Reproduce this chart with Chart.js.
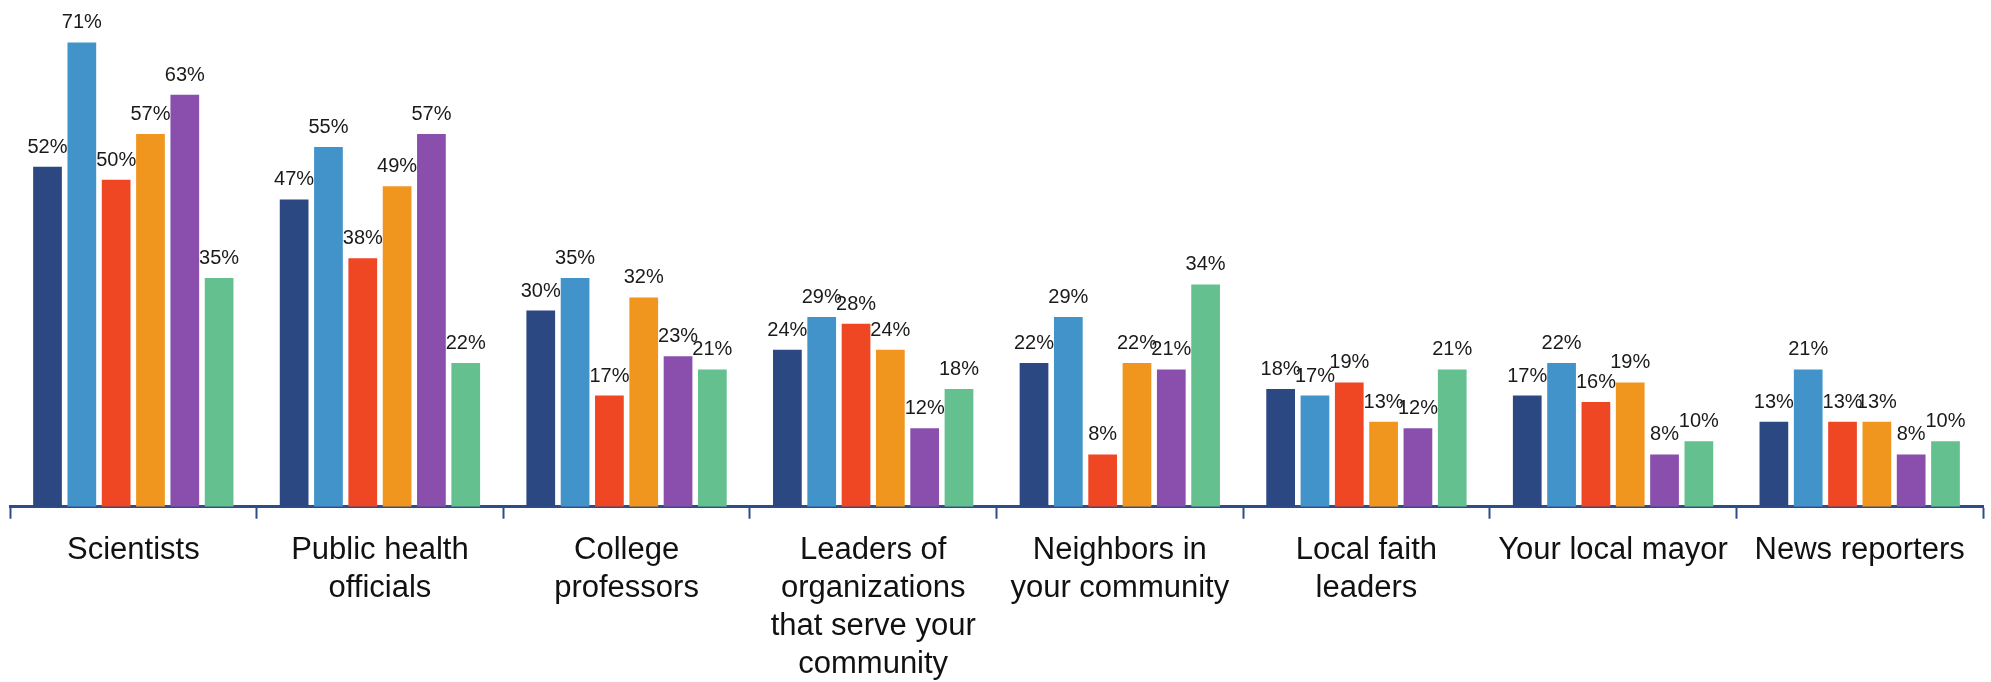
<!DOCTYPE html>
<html>
<head>
<meta charset="utf-8">
<script src="https://cdn.jsdelivr.net/npm/chart.js@4"></script>
<style>
  html, body { margin: 0; padding: 0; background: #ffffff; }
  #wrap { width: 1991px; height: 682px; position: relative; }
</style>
</head>
<body>
<div id="wrap"><canvas id="trustChart"></canvas></div>
<script>
/* ─── Data ───────────────────────────────────────────────── */
const CATEGORIES = [
  'Scientists',
  ['Public health', 'officials'],
  ['College', 'professors'],
  ['Leaders of', 'organizations', 'that serve your', 'community'],
  ['Neighbors in', 'your community'],
  ['Local faith', 'leaders'],
  'Your local mayor',
  'News reporters'
];
const SERIES_1 = [52, 47, 30, 24, 22, 18, 17, 13];
const SERIES_2 = [71, 55, 35, 29, 29, 17, 22, 21];
const SERIES_3 = [50, 38, 17, 28, 8, 19, 16, 13];
const SERIES_4 = [57, 49, 32, 24, 22, 13, 19, 13];
const SERIES_5 = [63, 57, 23, 12, 21, 12, 8, 8];
const SERIES_6 = [35, 22, 21, 18, 34, 21, 10, 10];

const COLORS = ['#2B4883', '#4393CB', '#EF4623', '#F0961E', '#8A4FAD', '#64C08F'];
const AXIS_COLOR = '#2F4C8A';

/* ─── Value labels above bars ────────────────────────────── */
const valueLabels = {
  id: 'valueLabels',
  afterDatasetsDraw(chart) {
    const ctx = chart.ctx;
    ctx.save();
    ctx.font = '20px "Liberation Sans", Arial, sans-serif';
    ctx.fillStyle = '#1a1a1a';
    ctx.textAlign = 'center';
    ctx.textBaseline = 'alphabetic';
    chart.data.datasets.forEach((ds, i) => {
      chart.getDatasetMeta(i).data.forEach((bar, j) => {
        ctx.fillText(ds.data[j] + '%', bar.x, bar.y - 14);
      });
    });
    ctx.restore();
  }
};

const mkSet = (data, i) => ({
  data: data,
  backgroundColor: COLORS[i],
  borderWidth: 0,
  categoryPercentage: 0.835,
  barPercentage: 0.837
});

/* ─── Chart ──────────────────────────────────────────────── */
new Chart(document.getElementById('trustChart'), {
  type: 'bar',
  data: {
    labels: CATEGORIES,
    datasets: [SERIES_1, SERIES_2, SERIES_3, SERIES_4, SERIES_5, SERIES_6].map(mkSet)
  },
  options: {
    responsive: true,
    maintainAspectRatio: false,
    animation: false,
    layout: { padding: { left: 10, right: 8, top: 0, bottom: -14 } },
    plugins: {
      legend: { display: false },
      tooltip: { enabled: false }
    },
    scales: {
      x: {
        border: { display: true, color: AXIS_COLOR, width: 3 },
        grid: {
          offset: true,
          drawOnChartArea: false,
          drawTicks: true,
          tickLength: 12,
          tickWidth: 2,
          color: AXIS_COLOR
        },
        ticks: {
          color: '#111111',
          font: { family: '"Liberation Sans", Arial, sans-serif', size: 31, lineHeight: 1.22 },
          padding: 13,
          maxRotation: 0,
          minRotation: 0,
          autoSkip: false
        }
      },
      y: {
        display: false,
        min: 0,
        max: 77.5
      }
    }
  },
  plugins: [valueLabels]
});
</script>
</body>
</html>
